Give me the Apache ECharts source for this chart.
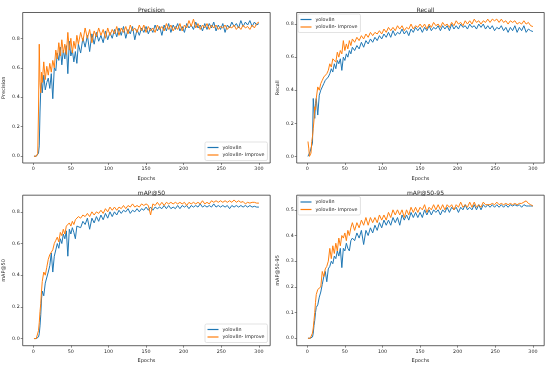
<!DOCTYPE html>
<html>
<head>
<meta charset="utf-8">
<script src="https://cdn.jsdelivr.net/npm/echarts@6/dist/echarts.min.js"></script>
<style>
html,body{margin:0;padding:0;background:#fff;}
#chart{width:550px;height:367px;}
</style>
</head>
<body>
<div id="chart"></div>
<script>
// ---- data ----
const epochs = [1,2,3,4,5,6,7,8,9,10,11,12,
  14,16,18,20,22,24,26,28,30,32,34,36,38,40,42,44,46,48,50,52,54,56,58,60,
  63,66,69,72,75,78,81,84,87,90,93,96,99,102,105,108,111,114,117,120,
  123,126,129,132,135,138,141,144,147,150,153,156,159,162,165,168,171,174,177,180,
  183,186,189,192,195,198,201,204,207,210,213,216,219,222,225,228,231,234,237,240,
  243,246,249,252,255,258,261,264,267,270,273,276,279,282,285,288,291,294,297,300];

const seriesNames = ['yolov8n', 'yolov8n- Improve'];
const titles = ['Precision', 'Recall', 'mAP@50', 'mAP@50-95'];
const xTicks = [0, 50, 100, 150, 200, 250, 300];
const yTicksA = [0, 0.2, 0.4, 0.6, 0.8];
const yTicksB = [0, 0.1, 0.2, 0.3, 0.4, 0.5];

const precisionBase = [0,0,0,0,0,0,0.02,0.07,0.3,0.45,0.5,0.43,
  0.55,0.45,0.5,0.53,0.46,0.56,0.39,0.6,0.58,0.7,0.65,0.74,0.62,0.72,0.66,0.75,0.56,0.78,0.68,0.72,0.64,0.71,0.63,0.76,
  0.7,0.8,0.74,0.82,0.71,0.83,0.76,0.84,0.78,0.82,
  0.77,0.85,0.79,0.84,0.8,0.86,0.81,0.87,0.82,0.88,
  0.8,0.86,0.83,0.88,0.79,0.86,0.82,0.87,0.84,0.88,
  0.83,0.87,0.84,0.89,0.85,0.88,0.82,0.89,0.85,0.9,
  0.84,0.89,0.86,0.9,0.85,0.88,0.84,0.9,0.87,0.89,
  0.86,0.91,0.87,0.89,0.85,0.9,0.86,0.9,0.87,0.91,
  0.85,0.89,0.86,0.9,0.84,0.89,0.87,0.91,0.88,0.9,
  0.87,0.92,0.88,0.91,0.89,0.92,0.88,0.91,0.89,0.9];
const precisionImp = [0,0,0,0,0,0.02,0.3,0.76,0.5,0.43,0.57,0.5,
  0.64,0.52,0.61,0.55,0.63,0.57,0.65,0.6,0.72,0.66,0.77,0.68,0.79,0.7,0.76,0.69,0.84,0.72,0.8,0.7,0.78,0.73,0.82,0.76,
  0.84,0.78,0.87,0.8,0.86,0.77,0.85,0.81,0.87,0.82,
  0.86,0.8,0.87,0.82,0.86,0.83,0.88,0.82,0.87,0.84,
  0.88,0.83,0.89,0.85,0.87,0.84,0.89,0.85,0.89,0.84,
  0.88,0.85,0.87,0.84,0.89,0.86,0.88,0.85,0.9,0.86,
  0.89,0.85,0.88,0.86,0.9,0.85,0.89,0.87,0.92,0.88,
  0.93,0.87,0.9,0.86,0.89,0.87,0.9,0.86,0.89,0.87,
  0.89,0.86,0.88,0.87,0.89,0.86,0.88,0.87,0.89,0.86,
  0.88,0.86,0.89,0.87,0.88,0.86,0.89,0.87,0.9,0.91];

const recallBase = [0,0,0,0.03,0.05,0.04,0.08,0.35,0.28,0.23,0.32,0.35,
  0.25,0.37,0.4,0.42,0.44,0.46,0.47,0.48,0.5,0.53,0.51,0.56,0.53,0.58,0.56,0.59,0.52,0.6,0.58,0.62,0.6,0.64,0.62,0.66,
  0.64,0.67,0.65,0.69,0.66,0.7,0.68,0.71,0.69,0.72,
  0.7,0.73,0.71,0.74,0.72,0.75,0.72,0.76,0.73,0.75,
  0.74,0.77,0.74,0.76,0.73,0.77,0.75,0.78,0.76,0.78,
  0.75,0.78,0.76,0.79,0.76,0.78,0.77,0.79,0.76,0.79,
  0.77,0.79,0.76,0.8,0.77,0.79,0.77,0.8,0.78,0.79,
  0.77,0.8,0.78,0.79,0.77,0.8,0.78,0.8,0.77,0.79,
  0.77,0.79,0.76,0.78,0.77,0.79,0.76,0.78,0.75,0.78,
  0.76,0.79,0.75,0.78,0.76,0.79,0.75,0.77,0.76,0.755];
const recallImp = [0.09,0.05,0,0,0.02,0.09,0.12,0.17,0.22,0.3,0.28,0.35,
  0.42,0.4,0.44,0.46,0.48,0.47,0.5,0.52,0.56,0.54,0.59,0.6,0.57,0.63,0.6,0.64,0.62,0.7,0.64,0.68,0.65,0.7,0.67,0.71,
  0.69,0.72,0.7,0.73,0.71,0.74,0.72,0.75,0.73,0.75,
  0.74,0.76,0.74,0.77,0.75,0.78,0.76,0.78,0.76,0.79,
  0.77,0.79,0.76,0.78,0.77,0.8,0.77,0.79,0.78,0.8,
  0.78,0.8,0.77,0.8,0.78,0.81,0.79,0.8,0.78,0.81,
  0.79,0.8,0.78,0.81,0.79,0.82,0.8,0.81,0.79,0.82,
  0.8,0.82,0.8,0.83,0.81,0.82,0.8,0.82,0.81,0.83,
  0.81,0.83,0.82,0.83,0.81,0.83,0.81,0.82,0.8,0.82,
  0.81,0.82,0.8,0.81,0.8,0.82,0.8,0.81,0.79,0.785];

const map50Base = [0,0,0,0,0,0,0.01,0.03,0.08,0.15,0.25,0.3,
  0.27,0.35,0.36,0.42,0.46,0.54,0.42,0.52,0.56,0.6,0.57,0.63,0.6,0.66,0.63,0.68,0.52,0.69,0.66,0.7,0.67,0.63,0.71,0.72,
  0.7,0.74,0.72,0.76,0.69,0.76,0.73,0.77,0.74,0.78,
  0.75,0.79,0.76,0.8,0.77,0.8,0.78,0.81,0.79,0.81,
  0.8,0.82,0.79,0.81,0.8,0.82,0.8,0.82,0.81,0.83,
  0.81,0.83,0.81,0.83,0.82,0.83,0.82,0.84,0.82,0.84,
  0.82,0.83,0.82,0.84,0.82,0.84,0.83,0.84,0.82,0.84,
  0.83,0.84,0.83,0.85,0.83,0.84,0.83,0.84,0.83,0.85,
  0.83,0.84,0.83,0.84,0.83,0.84,0.82,0.84,0.83,0.84,
  0.83,0.84,0.83,0.84,0.83,0.84,0.83,0.835,0.83,0.83];
const map50Imp = [0,0,0,0,0,0.01,0.05,0.1,0.17,0.22,0.3,0.36,
  0.42,0.4,0.45,0.5,0.53,0.52,0.56,0.6,0.62,0.64,0.61,0.67,0.65,0.69,0.66,0.71,0.7,0.73,0.71,0.74,0.72,0.75,0.74,0.77,
  0.76,0.78,0.77,0.79,0.77,0.8,0.78,0.8,0.79,0.81,
  0.79,0.82,0.8,0.83,0.81,0.83,0.81,0.83,0.82,0.84,
  0.82,0.84,0.83,0.85,0.83,0.84,0.83,0.85,0.84,0.85,
  0.84,0.78,0.85,0.84,0.86,0.84,0.86,0.84,0.86,0.85,
  0.86,0.85,0.86,0.85,0.86,0.85,0.86,0.84,0.86,0.85,
  0.86,0.85,0.86,0.85,0.87,0.85,0.86,0.85,0.87,0.86,
  0.87,0.86,0.87,0.86,0.87,0.86,0.87,0.86,0.875,0.86,
  0.87,0.86,0.865,0.85,0.86,0.855,0.86,0.86,0.855,0.855];

const map5095Base = [0,0,0,0,0,0,0.005,0.02,0.05,0.07,0.1,0.12,
  0.13,0.16,0.18,0.21,0.24,0.26,0.22,0.27,0.28,0.3,0.29,0.32,0.31,0.34,0.32,0.35,0.275,0.35,0.34,0.37,0.35,0.34,0.38,0.39,
  0.38,0.41,0.39,0.42,0.365,0.42,0.4,0.43,0.41,0.44,
  0.42,0.45,0.43,0.46,0.44,0.46,0.44,0.47,0.45,0.47,
  0.44,0.48,0.46,0.48,0.46,0.49,0.47,0.49,0.47,0.49,
  0.47,0.5,0.48,0.5,0.48,0.5,0.49,0.5,0.48,0.5,
  0.49,0.51,0.49,0.51,0.5,0.51,0.49,0.51,0.5,0.52,
  0.5,0.51,0.5,0.52,0.5,0.52,0.5,0.52,0.51,0.52,
  0.51,0.52,0.51,0.52,0.51,0.52,0.51,0.52,0.51,0.52,
  0.515,0.52,0.515,0.52,0.51,0.52,0.515,0.515,0.515,0.515];
const map5095Imp = [0,0,0,0,0,0.005,0.02,0.04,0.07,0.1,0.14,0.17,
  0.19,0.185,0.2,0.26,0.24,0.27,0.28,0.3,0.35,0.31,0.36,0.33,0.37,0.34,0.39,0.36,0.4,0.39,0.41,0.38,0.42,0.4,0.43,0.45,
  0.42,0.45,0.43,0.46,0.44,0.47,0.44,0.47,0.45,0.47,
  0.45,0.48,0.46,0.48,0.46,0.49,0.47,0.5,0.48,0.5,
  0.48,0.5,0.47,0.5,0.48,0.51,0.49,0.51,0.49,0.51,
  0.5,0.52,0.49,0.51,0.5,0.52,0.5,0.52,0.5,0.52,
  0.5,0.52,0.51,0.52,0.5,0.52,0.51,0.53,0.51,0.52,
  0.51,0.53,0.51,0.53,0.51,0.52,0.51,0.53,0.52,0.52,
  0.52,0.525,0.52,0.53,0.52,0.525,0.52,0.525,0.52,0.525,
  0.52,0.525,0.52,0.525,0.525,0.53,0.535,0.525,0.52,0.515];

// ---- layout ----
const FONT = 'DejaVu Sans';
const TXT = '#262626';
const BLUE = '#1f77b4', ORANGE = '#ff7f0e';
const panels = [
  {title: titles[0], base: precisionBase, imp: precisionImp, left: 22.7, top: 12.5, ymin: -0.046, ymax: 0.975, yt: yTicksA, legend: {left: 205, top: 142}},
  {title: titles[1], base: recallBase, imp: recallImp, left: 296.7, top: 12.5, ymin: -0.04, ymax: 0.87, yt: yTicksA, legend: {left: 298, top: 14}},
  {title: titles[2], base: map50Base, imp: map50Imp, left: 22.7, top: 195.2, ymin: -0.045, ymax: 0.905, yt: yTicksA, legend: {left: 205, top: 324}},
  {title: titles[3], base: map5095Base, imp: map5095Imp, left: 296.7, top: 195.2, ymin: -0.029, ymax: 0.557, yt: yTicksB, legend: {left: 298, top: 196.5}}
];
const GW = 247.5, GH = 150.5;

const option = {
  animation: false,
  backgroundColor: '#fff',
  title: [], grid: [], xAxis: [], yAxis: [], series: [], legend: []
};

panels.forEach((p, i) => {
  option.title.push({
    text: p.title, left: p.left + GW / 2, top: p.top - 10, textAlign: 'center',
    textStyle: {fontFamily: FONT, fontSize: 6, fontWeight: 'normal', color: TXT}
  });
  option.grid.push({
    left: p.left, top: p.top, width: GW, height: GH,
    show: true, borderColor: '#3a3a3a', borderWidth: 0.8, backgroundColor: '#fff'
  });
  option.xAxis.push({
    type: 'value', gridIndex: i, min: -14, max: 315,
    name: 'Epochs', nameLocation: 'middle', nameGap: 13,
    nameTextStyle: {fontFamily: FONT, fontSize: 5, color: TXT},
    axisLine: {show: false, onZero: false},
    axisTick: {show: true, customValues: xTicks, length: 2, lineStyle: {color: '#3a3a3a', width: 0.6}},
    axisLabel: {customValues: xTicks, fontFamily: FONT, fontSize: 4.8, color: TXT, margin: 3.5,
      formatter: v => String(v)},
    splitLine: {show: false}
  });
  option.yAxis.push({
    type: 'value', gridIndex: i, min: p.ymin, max: p.ymax,
    name: p.title, nameLocation: 'middle', nameGap: 16.5,
    nameTextStyle: {fontFamily: FONT, fontSize: 5, color: TXT},
    axisLine: {show: false, onZero: false},
    axisTick: {show: true, customValues: p.yt, length: 2, lineStyle: {color: '#3a3a3a', width: 0.6}},
    axisLabel: {customValues: p.yt, fontFamily: FONT, fontSize: 4.8, color: TXT, margin: 3,
      formatter: v => v.toFixed(1)},
    splitLine: {show: false}
  });
  [p.base, p.imp].forEach((vals, k) => {
    option.series.push({
      type: 'line', name: seriesNames[k], xAxisIndex: i, yAxisIndex: i,
      data: epochs.map((e, j) => [e, vals[j]]),
      showSymbol: false, symbol: 'none',
      lineStyle: {width: 1, color: k === 0 ? BLUE : ORANGE},
      itemStyle: {color: k === 0 ? BLUE : ORANGE},
      z: 2 + k
    });
  });
  option.legend.push({
    left: p.legend.left, top: p.legend.top, orient: 'vertical',
    data: seriesNames, icon: 'rect', itemWidth: 11, itemHeight: 1.2, itemGap: 1.5,
    padding: [2.5, 3, 2.5, 2.5], borderColor: '#d0d0d0', borderWidth: 0.6, borderRadius: 1.5,
    backgroundColor: 'rgba(255,255,255,0.8)', selectedMode: false,
    textStyle: {fontFamily: FONT, fontSize: 4.8, color: TXT, lineHeight: 6, padding: [0, 0, 0, -1]}
  });
});

const chart = echarts.init(document.getElementById('chart'), null, {renderer: 'canvas'});
chart.setOption(option);
</script>
</body>
</html>
